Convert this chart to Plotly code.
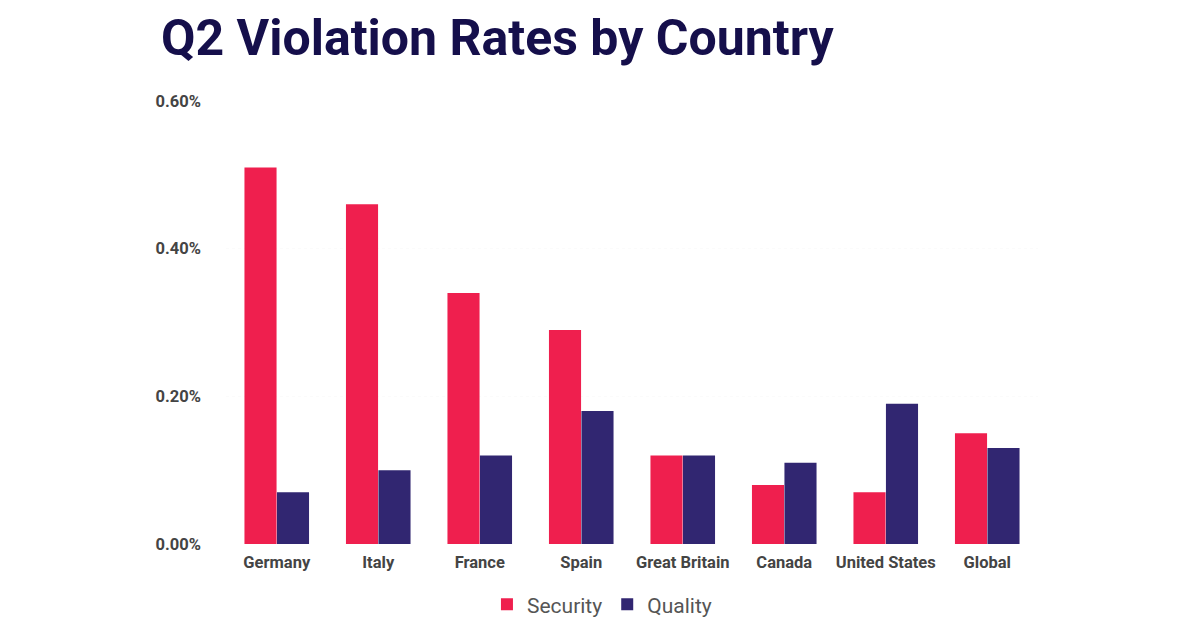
import plotly.graph_objects as go

countries = ["Germany", "Italy", "France", "Spain", "Great Britain", "Canada", "United States", "Global"]
security = [0.51, 0.46, 0.34, 0.29, 0.12, 0.08, 0.07, 0.15]
quality = [0.07, 0.10, 0.12, 0.18, 0.12, 0.11, 0.19, 0.13]
tick_values = [0, 0.2, 0.4, 0.6]
tick_labels = ["0.00%", "0.20%", "0.40%", "0.60%"]

fig = go.Figure()
fig.add_trace(go.Bar(name="Security", x=countries, y=security, marker=dict(color="#EF1F4E", line=dict(width=0))))
fig.add_trace(go.Bar(name="Quality", x=countries, y=quality, marker=dict(color="#312671", line=dict(width=0))))

# the page puts the figure 8px in from the corner, margins allow for that
fig.update_layout(
    width=1200,
    height=627,
    margin=dict(l=218, r=170, t=93, b=91, autoexpand=False),
    paper_bgcolor="white",
    plot_bgcolor="white",
    barmode="group",
    bargap=0.36,
    bargroupgap=0.012,
    font=dict(family="Roboto", color="#444444"),
    title=dict(
        text="<b>Q2 Violation Rates by Country</b>",
        x=153 / 1200,
        xanchor="left",
        y=0.9537,
        yanchor="middle",
        font=dict(family="Roboto", size=50, color="#150F4B"),
    ),
    legend=dict(
        orientation="h",
        x=0.463,
        xanchor="center",
        y=-0.137,
        yanchor="middle",
        font=dict(family="Roboto", size=21, color="#555555"),
        itemsizing="constant",
        itemwidth=30,
    ),
    xaxis=dict(
        showgrid=False,
        showline=False,
        ticks="",
        tickfont=dict(family="Roboto", size=16.5, color="#444444", weight="bold"),
        ticklabelstandoff=6,
    ),
    yaxis=dict(
        range=[0, 0.6],
        tickvals=tick_values,
        ticktext=tick_labels,
        showgrid=True,
        gridcolor="#FBFBFB",
        griddash="dot",
        zeroline=False,
        showline=False,
        ticks="",
        tickfont=dict(family="Roboto", size=16.5, color="#444444", weight="bold"),
        ticklabelstandoff=24,
    ),
)

fig.write_html("out.html")
